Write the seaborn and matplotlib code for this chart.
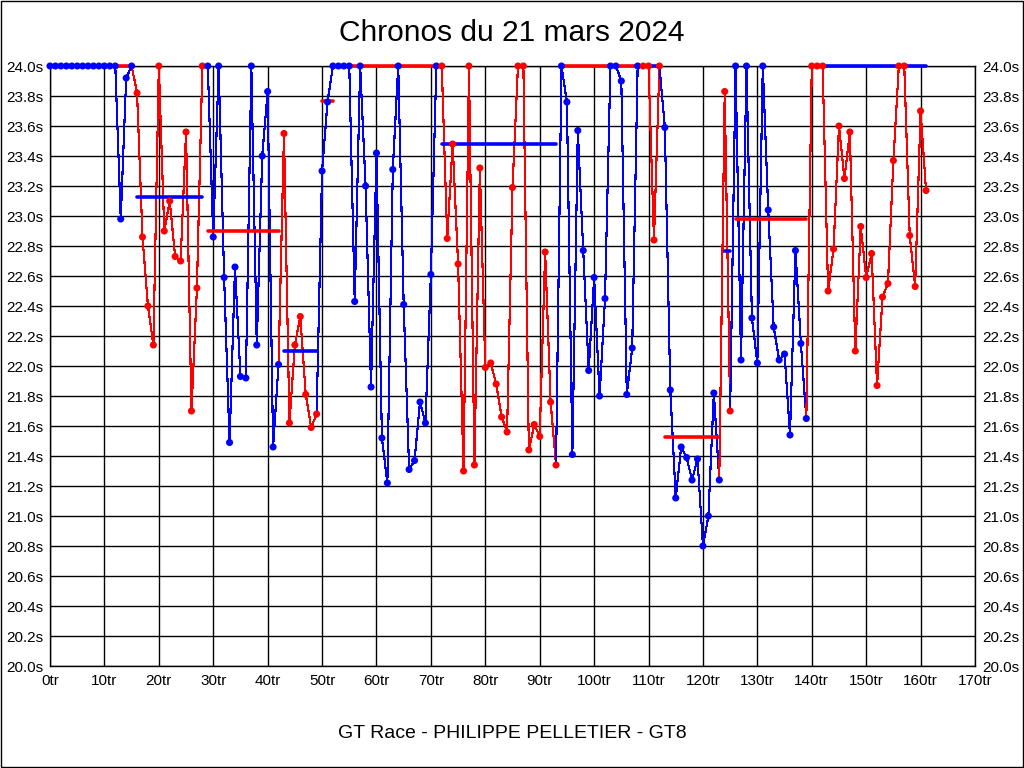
import numpy as np
import pandas as pd
import matplotlib
matplotlib.use("Agg")
import matplotlib.pyplot as plt
import seaborn as sns

# ---------------- data ----------------
laps = list(range(162))
times = [
    24.0, 24.0, 24.0, 24.0, 24.0, 24.0, 24.0, 24.0, 24.0, 24.0,   # 0-9
    24.0, 24.0, 24.0, 22.98, 23.92, 24.0, 23.82, 22.86, 22.40, 22.14,  # 10-19
    24.0, 22.90, 23.10, 22.73, 22.70, 23.56, 21.70, 22.52, 24.0, 24.0,  # 20-29
    22.86, 24.0, 22.59, 21.49, 22.66, 21.93, 21.92, 24.0, 22.14, 23.40,  # 30-39
    23.83, 21.46, 22.01, 23.55, 21.62, 22.14, 22.33, 21.81, 21.59, 21.68,  # 40-49
    23.30, 23.76, 24.0, 24.0, 24.0, 24.0, 22.43, 24.0, 23.20, 21.86,  # 50-59
    23.42, 21.52, 21.22, 23.31, 24.0, 22.41, 21.31, 21.37, 21.76, 21.62,  # 60-69
    22.61, 24.0, 24.0, 22.85, 23.48, 22.68, 21.30, 24.0, 21.34, 23.32,  # 70-79
    21.99, 22.02, 21.88, 21.66, 21.56, 23.19, 24.0, 24.0, 21.44, 21.61,  # 80-89
    21.53, 22.76, 21.76, 21.34, 24.0, 23.76, 21.41, 23.57, 22.77, 21.97,  # 90-99
    22.59, 21.80, 22.45, 24.0, 24.0, 23.90, 21.81, 22.12, 24.0, 24.0,  # 100-109
    24.0, 22.84, 24.0, 23.59, 21.84, 21.12, 21.46, 21.39, 21.24, 21.38,  # 110-119
    20.80, 21.00, 21.82, 21.24, 23.83, 21.70, 24.0, 22.04, 24.0, 22.32,  # 120-129
    22.02, 24.0, 23.04, 22.26, 22.04, 22.08, 21.54, 22.77, 22.15, 21.65,  # 130-139
    24.0, 24.0, 24.0, 22.50, 22.78, 23.60, 23.25, 23.56, 22.10, 22.93,  # 140-149
    22.59, 22.75, 21.87, 22.46, 22.55, 23.37, 24.0, 24.0, 22.87, 22.53,  # 150-159
    23.70, 23.17,                                                     # 160-161
]

# stints (colour of lap points)
stint_first = [0, 16, 29, 43, 50, 72, 94, 109, 113, 124, 126, 140]
stint_color = ["blue", "red", "blue", "red", "blue", "red",
               "blue", "red", "blue", "red", "blue", "red"]

# stint averages (bars)
avg_from = [0, 2, 4, 12, 16, 29, 43, 50, 54, 72, 94, 108, 113, 124, 126, 142]
avg_to = [1, 3, 5, 15, 28, 42, 49, 52, 71, 93, 108, 112, 123, 125, 139, 161]
avg_val = [24.0, 24.0, 24.0, 24.0, 23.13, 22.90, 22.10, 23.77, 24.0, 23.48,
           24.0, 24.0, 21.53, 22.77, 22.98, 24.0]
avg_color = ["red", "red", "red", "red", "blue", "red", "blue", "red", "red",
             "blue", "red", "blue", "red", "blue", "red", "blue"]

x_ticks = list(range(0, 171, 10))
y_ticks = [round(20.0 + 0.2 * i, 1) for i in range(21)]

title = "Chronos du 21 mars 2024"
xlabel = "GT Race - PHILIPPE PELLETIER - GT8"

# ---------------- build frame ----------------
df = pd.DataFrame({"lap": laps, "time": times})
stint_id = np.zeros(len(df), dtype=int)
for i, f in enumerate(stint_first):
    stint_id[df["lap"] >= f] = i
df["stint"] = stint_id
df["color"] = [stint_color[s] for s in stint_id]

# ---------------- figure ----------------
sns.set_theme(style="white")
plt.rcParams["font.family"] = ["Liberation Sans", "DejaVu Sans"]

fig = plt.figure(figsize=(10.24, 7.68), dpi=100)
ax = fig.add_axes([50 / 1024, 1 - 666 / 768, 925 / 1024, 600 / 768])

# lines per stint (including link from previous lap)
for i, f in enumerate(stint_first):
    last = stint_first[i + 1] - 1 if i + 1 < len(stint_first) else laps[-1]
    lo = max(f - 1, 0)
    seg = df[(df["lap"] >= lo) & (df["lap"] <= last)]
    sns.lineplot(data=seg, x="lap", y="time", color=stint_color[i],
                 linewidth=0.8, ax=ax, sort=False, estimator=None,
                 antialiased=False, zorder=3)

# markers
sns.scatterplot(data=df, x="lap", y="time", hue="color",
                palette={"blue": "blue", "red": "red"}, s=26,
                edgecolor="none", linewidth=0, legend=False, ax=ax, zorder=5)

# averages
for a, b, v, c in zip(avg_from, avg_to, avg_val, avg_color):
    avg_df = pd.DataFrame({"lap": [a, b], "time": [v, v]})
    sns.lineplot(data=avg_df, x="lap", y="time", color=c, linewidth=2.6,
                 ax=ax, estimator=None, zorder=4)

for ln in ax.lines:
    ln.set_clip_on(False)
for coll in ax.collections:
    coll.set_clip_on(False)
    coll.set_zorder(5)

ax.set_xlim(0, 170)
ax.set_ylim(20.0, 24.0)
ax.set_xticks(x_ticks)
ax.set_xticklabels([f"{t}tr" for t in x_ticks])
ax.set_yticks(y_ticks)
ax.set_yticklabels([f"{t:.1f}s" for t in y_ticks])
ax.tick_params(axis="y", labelleft=True, labelright=True, length=0, pad=5,
               labelsize=11, colors="black")
ax.tick_params(axis="x", length=0, pad=6, labelsize=11, colors="black")
ax.grid(True, color="black", linewidth=1.0)
ax.set_axisbelow(True)
for sp in ax.spines.values():
    sp.set_color("black")
    sp.set_linewidth(1.0)
    sp.set_zorder(1)
ax.set_xlabel("")
ax.set_ylabel("")

fig.text(0.5, 1 - 33 / 768, title, ha="center", va="center", fontsize=21.5,
         color="black")
fig.text(0.5, 1 - 733 / 768, xlabel, ha="center", va="center", fontsize=14,
         color="black")

fig.patches.append(plt.Rectangle((0.0005, 0.0007), 0.999, 0.9986,
                                 transform=fig.transFigure, fill=False,
                                 edgecolor="black", linewidth=1.0))

fig.savefig("out.png", dpi=100, facecolor="white")
